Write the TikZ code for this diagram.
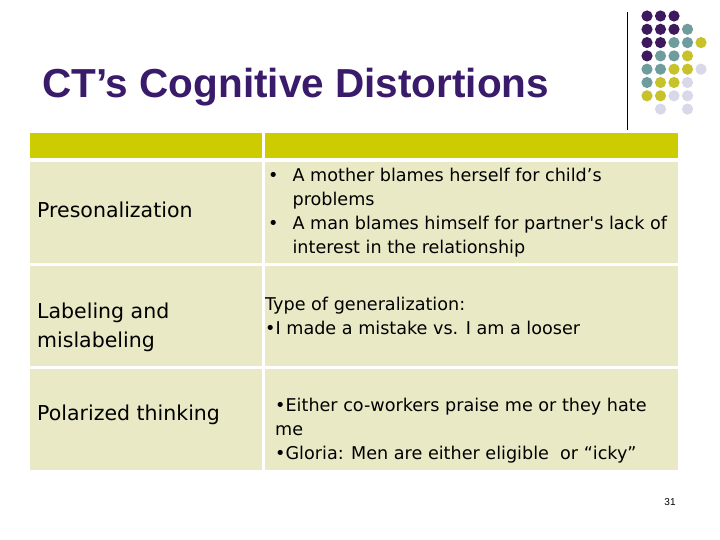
\documentclass[tikz,border=0pt]{standalone}
\usepackage{fontspec}
\setmainfont{Liberation Sans}
\newfontfamily\bodyf{DejaVu Sans}
\definecolor{pp}{HTML}{3D1A5E}
\definecolor{tt}{HTML}{6F9C9C}
\definecolor{yy}{HTML}{C8C22A}
\definecolor{ll}{HTML}{D8D8E8}
\definecolor{hdr}{HTML}{CCCC00}
\definecolor{cell}{HTML}{E9E9C6}
\definecolor{ttl}{HTML}{3A1A6A}
\begin{document}
\begin{tikzpicture}[x=1pt,y=-1pt,
  cellbox/.style={fill=cell,draw=none},
  lbl/.style={anchor=west,font=\bodyf\fontsize{20.5}{29}\selectfont,align=left,inner sep=0},
  txt/.style={anchor=west,font=\bodyf\fontsize{17.6}{24}\selectfont,align=left,inner sep=0}]
\useasboundingbox (0,0) rectangle (720,540);
\fill[white] (0,0) rectangle (720,540);
\node[anchor=west,text=ttl,font=\fontsize{40.5}{44}\selectfont\bfseries,inner sep=0] (title) at (42,87) {CT’s Cognitive Distortions};
\draw[black,line width=0.8] (627,12) -- (627,130);
% dots
\foreach \r/\row in {0/{pp,pp,pp},1/{pp,pp,pp,tt},2/{pp,pp,tt,tt,yy},3/{pp,tt,tt,yy},4/{tt,tt,yy,yy,ll},5/{tt,yy,yy,ll},6/{yy,yy,ll,ll},7/{white,ll,white,ll}}{
  \foreach \c [count=\i from 0] in \row {\fill[\c] (647+13.5*\i,16+13.3*\r) circle (5.6);}}
% table
\fill[hdr] (30,133) rectangle (262,158);
\fill[hdr] (265,133) rectangle (678,158);
\fill[cellbox] (30,162) rectangle (262,263);
\fill[cellbox] (265,162) rectangle (678,263);
\fill[cellbox] (30,266) rectangle (262,366);
\fill[cellbox] (265,266) rectangle (678,366);
\fill[cellbox] (30,369) rectangle (262,470);
\fill[cellbox] (265,369) rectangle (678,470);
\node[lbl] (a1) at (37,210) {Presonalization};
\node[lbl] (a2) at (37,327) {Labeling and\\mislabeling};
\node[lbl] (a3) at (37,415) {Polarized thinking};
\node[txt] (b1) at (268,213) {%
\begin{tabular}{@{}l@{\hspace{14pt}}l@{}}
•&A mother blames herself for child’s\\
 &problems\\
•&A man blames himself for partner's lack of\\
 &interest in the relationship
\end{tabular}};
\node[txt] (b2) at (265,316) {Type of generalization:\\•I made a mistake vs. I am a looser};
\node[txt] (b3) at (275,431) {•Either co-workers praise me or they hate\\me\\•Gloria: Men are either eligible\ \ or “icky”};
\node[font=\fontsize{10}{12}\selectfont] (num) at (670,502) {31};
\end{tikzpicture}
\end{document}
